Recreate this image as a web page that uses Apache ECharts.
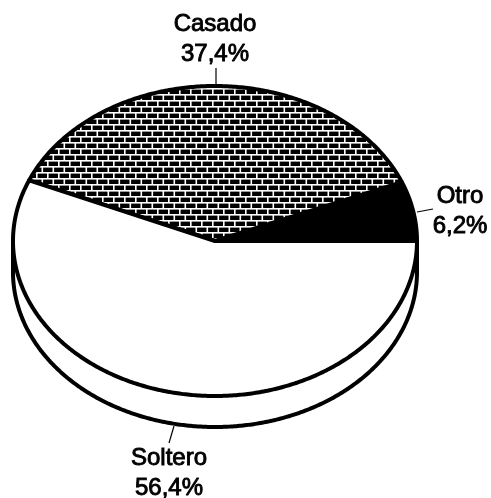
<!DOCTYPE html>
<html><head><meta charset="utf-8">
<style>html,body{margin:0;padding:0;background:#fff}#c{width:491px;height:498px}</style>
<script src="https://cdn.jsdelivr.net/npm/echarts@6/dist/echarts.min.js"></script>
</head><body><div id="c"></div>
<script>
const categories = ['Otro', 'Casado', 'Soltero'];
const percents = [6.2, 37.4, 56.4];
const rimDepth = 0.2;

function brickPattern() {
  const W = 22, H = 12, cv = document.createElement('canvas');
  cv.width = W; cv.height = H;
  const g = cv.getContext('2d');
  g.fillStyle = '#000'; g.fillRect(0, 0, W, H);
  g.fillStyle = '#fff';
  g.fillRect(0, 4, W, 1.6); g.fillRect(0, 10, W, 1.6);
  [3, 14].forEach(x => g.fillRect(x, 4, 1.6, 6));
  [8.5, 19.5].forEach(x => { g.fillRect(x, 10, 1.6, 2); g.fillRect(x, 0, 1.6, 4); });
  return cv;
}
const brick = brickPattern();
const fills = ['#000', { image: brick, repeat: 'repeat' }, '#fff'];

function pct(v) { return String(v).replace('.', ',') + '%'; }

function renderSlice(params, api) {
  const i = params.dataIndex;
  const total = percents.reduce((a, b) => a + b, 0);
  const before = percents.slice(0, i).reduce((a, b) => a + b, 0);
  const a0 = before / total * 2 * Math.PI;
  const a1 = (before + api.value(1)) / total * 2 * Math.PI;
  const pts = [api.coord([0, 0])];
  const n = Math.ceil((a1 - a0) / 0.01);
  for (let k = 0; k <= n; k++) {
    const a = a0 + (a1 - a0) * k / n;
    pts.push(api.coord([Math.cos(a), Math.sin(a)]));
  }
  return { type: 'polygon', shape: { points: pts },
    style: { fill: fills[i], stroke: '#000', lineWidth: 4, lineJoin: 'round' } };
}
function renderRim(params, api) {
  const pts = [];
  for (let k = 0; k <= 360; k++) {
    const a = -k / 360 * Math.PI;
    pts.push(api.coord([Math.cos(a), Math.sin(a) - rimDepth]));
  }
  pts.unshift(api.coord([1, 0]));
  pts.push(api.coord([-1, 0]));
  return { type: 'polygon', shape: { points: pts },
    style: { fill: '#fff', stroke: '#000', lineWidth: 4, lineJoin: 'round' } };
}

const labelStyle = { font: '24px "Liberation Sans"', fill: '#000', stroke: '#000', lineWidth: 0.9,
  textAlign: 'center', textVerticalAlign: 'middle', lineHeight: 30 };
const labelAt = [[460, 211], [215, 39], [169, 473]];
const leaders = [[417, 212, 433, 209], [216, 84, 216, 68], [174, 426, 169, 443]];

const chart = echarts.init(document.getElementById('c'), null, { renderer: 'canvas' });
chart.setOption({
  animation: false,
  grid: { left: 13, width: 404, top: 86, height: 310 },
  xAxis: { type: 'value', min: -1, max: 1, show: false },
  yAxis: { type: 'value', min: -1, max: 1, show: false },
  series: [
    { type: 'custom', coordinateSystem: 'cartesian2d', renderItem: renderRim, clip: false,
      data: [[0, 0]], encode: { x: 0, y: 1 }, silent: true, z: 1 },
    { type: 'custom', coordinateSystem: 'cartesian2d', renderItem: renderSlice, clip: false,
      data: categories.map((c, i) => [i, percents[i]]), silent: true, z: 2 }
  ],
  graphic: [
    ...categories.map((c, i) => ({
      type: 'text', x: labelAt[i][0], y: labelAt[i][1], silent: true,
      style: Object.assign({ text: c + '\n' + pct(percents[i]) }, labelStyle)
    })),
    ...leaders.map(l => ({
      type: 'line', silent: true, shape: { x1: l[0], y1: l[1], x2: l[2], y2: l[3] },
      style: { stroke: '#000', lineWidth: 1.2 }
    }))
  ]
});
</script></body></html>
